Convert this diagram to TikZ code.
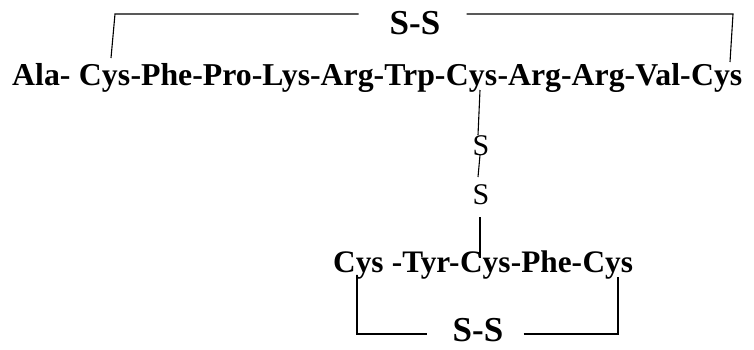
\documentclass[tikz,border=0pt]{standalone}
\usepackage{fontspec}
\setmainfont{Liberation Serif}
\usetikzlibrary{calc}
\begin{document}
\begin{tikzpicture}[x=1pt,y=1pt,
  res/.style={inner sep=0pt, anchor=base west, font=\fontsize{31.8}{38}\selectfont\bfseries},
  resb/.style={inner sep=0pt, anchor=base west, font=\fontsize{31.3}{38}\selectfont\bfseries},
  ssbold/.style={inner sep=0pt, font=\fontsize{35}{40}\selectfont\bfseries},
  sreg/.style={inner sep=0pt, font=\fontsize{30}{36}\selectfont},
  bond/.style={line width=1.1pt, line cap=butt, line join=miter}]
\useasboundingbox (0,0) rectangle (754,349);
% main chain
\node[res] (ala) at (12,264) {Ala-};
\node[res, xshift=8pt] (cysA) at (ala.base east) {Cys};
\node[res] (mid1) at (cysA.base east) {-Phe-Pro-Lys-Arg-Trp-};
\node[res] (cysB) at (mid1.base east) {Cys};
\node[res] (mid2) at (cysB.base east) {-Arg-Arg-Val-};
\node[res] (cysC) at (mid2.base east) {Cys};
% lower chain
\node[resb] (cysD) at (333,77) {Cys};
\node[resb, xshift=7.8pt] (tyr) at (cysD.base east) {-Tyr-};
\node[resb] (cysE) at (tyr.base east) {Cys};
\node[resb] (phe) at (cysE.base east) {-Phe-};
\node[resb] (cysF) at (phe.base east) {Cys};
% S-S labels
\node[ssbold] (ssT) at (415,326) {S-S};
\node[ssbold] (ssB) at (478,18.5) {S-S};
% middle S atoms
\node[sreg] (s1) at (481,203) {S};
\node[sreg] (s2) at (481,154) {S};
% corner coordinates
\coordinate (tl1) at ($(ssT.west)+(-31,9)$);
\coordinate (tl2) at (115,335);
\coordinate (tl3) at (111,291);
\coordinate (tr1) at ($(ssT.east)+(26,9)$);
\coordinate (tr2) at (733,335);
\coordinate (tr3) at (730,287);
\coordinate (bl1) at ($(ssB.west)+(-26,-3.5)$);
\coordinate (bl2) at (357,15);
\coordinate (bl3) at (357,74);
\coordinate (br1) at ($(ssB.east)+(20,-3.5)$);
\coordinate (br2) at (618,15);
\coordinate (br3) at (618,72);
\coordinate (m1) at (480,259);
\coordinate (m2) at (478,214);
\coordinate (m3) at (480,194);
\coordinate (m4) at (478,172);
\coordinate (m5) at (480,132);
\coordinate (m6) at (480,91);
% bonds
\draw[bond] (tl1) -- (tl2) -- (tl3);
\draw[bond] (tr1) -- (tr2) -- (tr3);
\draw[bond] (bl1) -- (bl2) -- (bl3);
\draw[bond] (br1) -- (br2) -- (br3);
\draw[bond] (m1) -- (m2);
\draw[bond] (m3) -- (m4);
\draw[bond] (m5) -- (m6);
\end{tikzpicture}
\end{document}
